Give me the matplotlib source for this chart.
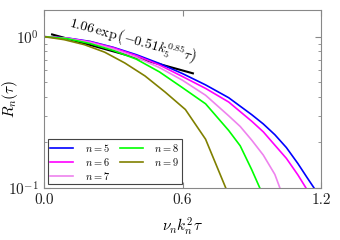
import numpy as np
import matplotlib
matplotlib.use("Agg")
import matplotlib.pyplot as plt
from matplotlib.ticker import NullFormatter, FixedLocator, FixedFormatter

plt.rcParams['mathtext.fontset'] = 'cm'
plt.rcParams['font.family'] = ['cmr10', 'DejaVu Serif']
plt.rcParams['axes.unicode_minus'] = False

# ---- data ----
x5 = [0, 0.1, 0.2, 0.3, 0.4, 0.5, 0.6, 0.7, 0.8, 0.9, 0.95, 1.0, 1.05, 1.1, 1.14, 1.17]
y5 = [1.0, 0.98, 0.93, 0.85, 0.76, 0.665, 0.57, 0.48, 0.395, 0.305, 0.265, 0.225, 0.185, 0.145, 0.117, 0.1]

x6 = [0, 0.1, 0.2, 0.3, 0.4, 0.5, 0.6, 0.7, 0.8, 0.9, 0.95, 1.0, 1.05, 1.1, 1.135]
y6 = [1.0, 0.978, 0.925, 0.845, 0.75, 0.65, 0.545, 0.455, 0.37, 0.276, 0.235, 0.192, 0.157, 0.122, 0.1]

x7 = [0, 0.1, 0.2, 0.3, 0.4, 0.5, 0.6, 0.7, 0.8, 0.85, 0.9, 0.95, 1.0, 1.022]
y7 = [1.0, 0.975, 0.915, 0.83, 0.73, 0.625, 0.515, 0.41, 0.3, 0.255, 0.207, 0.165, 0.123, 0.1]

x8 = [0, 0.1, 0.2, 0.3, 0.4, 0.5, 0.6, 0.7, 0.8, 0.85, 0.9, 0.935]
y8 = [1.0, 0.97, 0.9, 0.81, 0.71, 0.585, 0.46, 0.36, 0.24, 0.19, 0.132, 0.1]

x9 = [0, 0.0875, 0.175, 0.2625, 0.35, 0.4375, 0.525, 0.6125, 0.70, 0.7875]
y9 = [1.0, 0.955, 0.885, 0.79, 0.67, 0.55, 0.43, 0.33, 0.21, 0.1]

series_x = [x5, x6, x7, x8, x9]
series_y = [y5, y6, y7, y8, y9]
labels = [r'$n=5$', r'$n=6$', r'$n=7$', r'$n=8$', r'$n=9$']
colors = ['#0000ff', '#ff00ff', '#ee82ee', '#00ff00', '#808000']

# fitted line parameters
fit_amp = 1.07
fit_rate = 0.97
fit_range = [0.035, 0.645]
fit_label = r'$1.06\,\exp\left(-0.51k_5^{0.85}\tau\right)$'

xticks = [0.0, 0.6, 1.2]
xticklabels = ['0.0', '0.6', '1.2']

# ---- figure ----
fig = plt.figure(figsize=(3.4, 2.4), dpi=100)
ax = fig.add_axes([44/340, 1-188/240, (321-44)/340, (188-10)/240])

xf = np.linspace(fit_range[0], fit_range[1], 50)
ax.plot(xf, fit_amp*np.exp(-fit_rate*xf), color='black', lw=1.5, zorder=1)

for xs, ys, lab, c in zip(series_x, series_y, labels, colors):
    ax.plot(xs, ys, color=c, lw=1.2, label=lab, zorder=2)

ax.set_yscale('log')
ax.set_xlim(0, 1.2)
ax.set_ylim(0.1, 1.5)
ax.xaxis.set_major_locator(FixedLocator(xticks))
ax.xaxis.set_major_formatter(FixedFormatter(xticklabels))
ax.yaxis.set_minor_formatter(NullFormatter())

spine_c = '#888888'
for s in ax.spines.values():
    s.set_color(spine_c)
ax.tick_params(which='both', direction='in', top=True, right=True, colors=spine_c,
               labelcolor='#222222', labelsize=11)
ax.tick_params(which='major', length=4, pad=4)
ax.tick_params(which='minor', length=2)

ax.set_xlabel(r'$\nu_n k_n^2 \tau$', fontsize=11)
ax.xaxis.set_label_coords(0.5, -0.155)
ax.set_ylabel(r'$R_n(\tau)$', fontsize=11)
ax.yaxis.set_label_coords(-0.087, 0.5)

ax.text(0.385, 0.955, fit_label, rotation=-15.5, fontsize=10, ha='center', va='center',
        rotation_mode='anchor')

leg = ax.legend(loc='lower left', ncol=2, fontsize=7.5, fancybox=False,
                edgecolor='#444444', framealpha=1, handlelength=2.2,
                borderaxespad=0.35, columnspacing=1.0, labelspacing=0.2,
                handletextpad=1.1, borderpad=0.25)
leg.get_frame().set_linewidth(0.8)

fig.savefig('out.png', dpi=100)
